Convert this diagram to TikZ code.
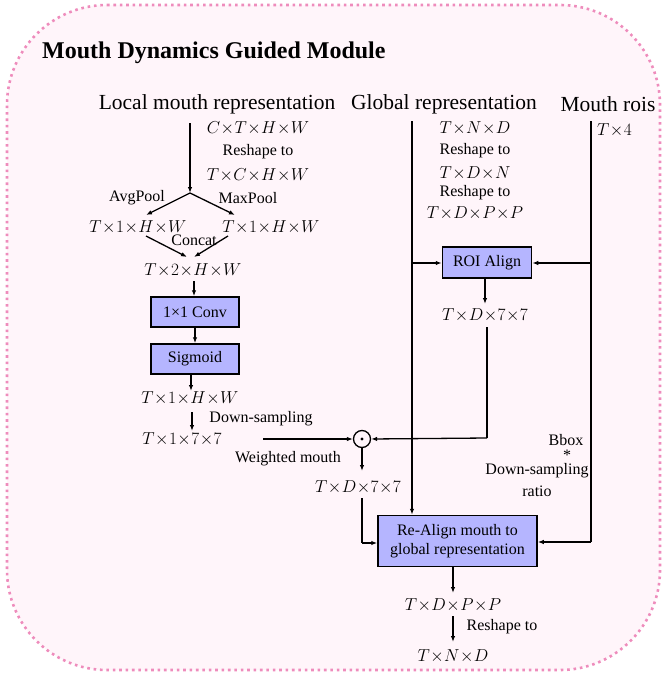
\documentclass[tikz,border=0pt]{standalone}
\usepackage{fontspec}
\setmainfont{Liberation Serif}
\usetikzlibrary{arrows.meta}
\definecolor{pinkdot}{RGB}{238,140,188}
\definecolor{pinkfill}{RGB}{255,245,250}
\definecolor{boxfill}{RGB}{181,181,255}
\newcommand\mm[1]{$\medmuskip=0.5mu #1$}
\begin{document}
\begin{tikzpicture}[x=1pt,y=-1pt,
  lbl/.style={font=\fontsize{21.5}{24}\selectfont, inner sep=0},
  sm/.style={font=\fontsize{16}{18}\selectfont, inner sep=0},
  mt/.style={font=\fontsize{17.5}{19}\selectfont, inner sep=0},
  blk/.style={draw=black, line width=1.5pt, fill=boxfill, font=\fontsize{16}{19}\selectfont, inner sep=0, align=center},
  ln/.style={line width=1.3pt},
  arr/.style={line width=1.3pt, -{Latex[length=6pt,width=4.5pt]}}]
\useasboundingbox (0,0) rectangle (661,677);
\draw[pinkdot, fill=pinkfill, line width=2.6pt, dash pattern=on 2.6pt off 3.8pt]
  (107,5) -- (560,5) .. controls (615.2,5) and (660,49.8) .. (660,105)
  -- (660,570) .. controls (660,625.2) and (615.2,670) .. (560,670)
  -- (107,670) .. controls (51.8,670) and (7,625.2) .. (7,570)
  -- (7,105) .. controls (7,49.8) and (51.8,5) .. (107,5) -- cycle;
% title and headings
\node[anchor=west, inner sep=0, font=\fontsize{24}{28}\selectfont\bfseries] (title) at (42,53) {Mouth Dynamics Guided Module};
\node[lbl] (local) at (217,104) {Local mouth representation};
\node[lbl] (global) at (444,104) {Global representation};
\node[lbl] (rois) at (608,104) {Mouth rois};
% local branch
\node[mt] (ctwh) at (258,128) {\mm{C\times T\times H\times W}};
\node[sm] (rs1) at (258,152) {Reshape to};
\node[mt] (tchw) at (258,175) {\mm{T\times C\times H\times W}};
\node[sm] (avg) at (137,198) {AvgPool};
\node[sm] (maxp) at (248,198) {MaxPool};
\node[mt] (t1hwL) at (138,227) {\mm{T\times 1\times H\times W}};
\node[mt] (t1hwR) at (271,227) {\mm{T\times 1\times H\times W}};
\node[sm] (concat) at (194,240) {Concat};
\node[mt] (t2hw) at (193,270) {\mm{T\times 2\times H\times W}};
\node[blk, minimum width=88pt, minimum height=30pt] (conv) at (195,312) {1×1 Conv};
\node[blk, minimum width=88pt, minimum height=30pt] (sig) at (195,359) {Sigmoid};
\node[mt] (t1hw2) at (190,398) {\mm{T\times 1\times H\times W}};
\node[sm] (downs) at (261,419) {Down-sampling};
\node[mt] (t177) at (182,439) {\mm{T\times 1\times 7\times 7}};
\node[circle, draw, line width=1.3pt, minimum size=17pt, inner sep=0] (od) at (362,439) {};
\fill (od.center) circle (1.6pt);
\node[sm] (wm) at (288,459) {Weighted mouth};
\node[mt] (td77a) at (358,487) {\mm{T\times D\times 7\times 7}};
% global branch
\node[mt] (tnd) at (475,128) {\mm{T\times N\times D}};
\node[sm] (rs2) at (475,151) {Reshape to};
\node[mt] (tdn) at (475,173) {\mm{T\times D\times N}};
\node[sm] (rs3) at (475,193) {Reshape to};
\node[mt] (tdpp) at (475,213) {\mm{T\times D\times P\times P}};
\node[blk, minimum width=89pt, minimum height=31pt] (roi) at (487,262.5) {ROI Align};
\node[mt] (td77b) at (485,315) {\mm{T\times D\times 7\times 7}};
% rois branch
\node[mt, anchor=west] (t4) at (597,130) {\mm{T\times 4}};
\node[sm] (bbox) at (566,440) {Bbox};
\node[sm] (star) at (567,455) {*};
\node[sm] (dsr) at (537,471) {Down-sampling};
\node[sm] (ratio) at (537,491) {ratio};
% re-align
\node[blk, minimum width=159pt, minimum height=51pt] (re) at (457.5,541) {Re-Align mouth to\\global representation};
\node[mt] (tdpp2) at (453,605) {\mm{T\times D\times P\times P}};
\node[sm] (rs4) at (502,627) {Reshape to};
\node[mt] (tnd2) at (453,656) {\mm{T\times N\times D}};
% coordinates
\coordinate (lt) at (190,123);
\coordinate (J) at (190,193);
\coordinate (aL) at (146,215);
\coordinate (aR) at (235,215);
\coordinate (cL0) at (146,236);
\coordinate (cR0) at (228,236);
\coordinate (cL1) at (187,257);
\coordinate (cR1) at (194,257);
\coordinate (c2) at (194,281);
\coordinate (s0) at (191,375);
\coordinate (s1) at (191,391);
\coordinate (d0) at (192,412);
\coordinate (d1) at (192,431);
\coordinate (h0) at (263,439);
\coordinate (o1) at (362,471);
\coordinate (w0) at (362,498);
\coordinate (wc) at (362,543);
\coordinate (gt) at (412,121);
\coordinate (gb) at (412,263);
\coordinate (rt) at (591,121);
\coordinate (rb) at (591,263);
\coordinate (rr) at (591,542);
\coordinate (r0) at (485,279);
\coordinate (r1) at (485,304);
\coordinate (r2) at (487,327);
\coordinate (rc) at (487,438);
\coordinate (e0) at (453,567);
\coordinate (e1) at (453,593);
\coordinate (e2) at (453,616);
\coordinate (e3) at (453,642);
% connectors
\draw[arr] (lt) -- (J);
\draw[arr] (J) -- (aL);
\draw[arr] (J) -- (aR);
\draw[arr] (cL0) -- (cL1);
\draw[arr] (cR0) -- (cR1);
\draw[arr] (c2) -- (c2 |- conv.north);
\draw[arr] (conv) -- (sig);
\draw[arr] (s0) -- (s1);
\draw[arr] (d0) -- (d1);
\draw[arr] (h0) -- (od.west);
\draw[arr] (od.south) -- (o1);
\draw[ln] (w0) -- (wc);
\draw[arr] (wc) -- (wc -| re.west);
\draw[arr] (gt) -- (gt |- re.north);
\draw[arr] (gb) -- (gb -| roi.west);
\draw[ln] (rt) -- (rr);
\draw[arr] (rb) -- (rb -| roi.east);
\draw[arr] (rr) -- (rr -| re.east);
\draw[arr] (r0) -- (r1);
\draw[ln] (r2) -- (rc);
\draw[arr] (rc) -- (od.east);
\draw[arr] (e0) -- (e1);
\draw[arr] (e2) -- (e3);
\end{tikzpicture}
\end{document}
